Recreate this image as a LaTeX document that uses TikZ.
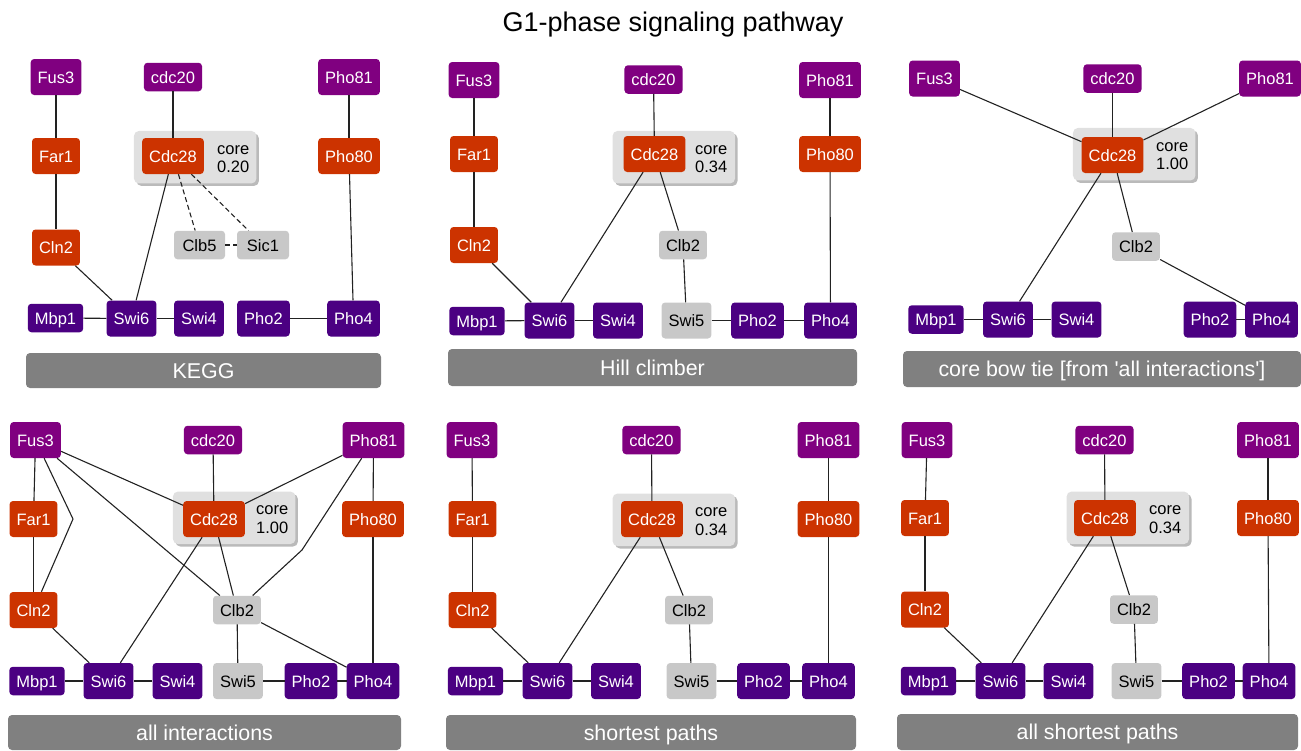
\documentclass[tikz,border=0pt]{standalone}
\usepackage{fontspec}
\setmainfont{Liberation Sans}
\usetikzlibrary{shadows}

\definecolor{topc}{HTML}{800080}
\definecolor{midc}{HTML}{CC3300}
\definecolor{botc}{HTML}{4B0082}
\definecolor{auxc}{HTML}{C8C8C8}
\definecolor{corec}{HTML}{E0E0E0}
\definecolor{shadowc}{HTML}{BABABA}
\definecolor{barc}{HTML}{808080}
\definecolor{linkc}{HTML}{222222}

\newcommand\genefont{\fontsize{16.5}{18.5}\selectfont}
\newcommand\barfont{\fontsize{21.4}{24}\selectfont}
\newcommand\titlefont{\fontsize{27}{30}\selectfont}

\begin{document}
\begin{tikzpicture}[x=1pt,y=-1pt,
  gene/.style={rectangle, rounded corners=3.5pt, inner xsep=7pt, inner ysep=0pt,
    minimum height=36pt, text height=12pt, text depth=0pt, font=\genefont, text=white},
  gtop/.style={gene, fill=topc},
  gmid/.style={gene, fill=midc},
  gbot/.style={gene, fill=botc},
  gaux/.style={gene, fill=auxc, text=black},
  gshort/.style={minimum height=28.5pt},
  corebox/.style={rectangle, rounded corners=5pt, fill=corec, inner sep=0pt,
    minimum width=122.5pt, minimum height=52.5pt,
    drop shadow={shadow xshift=2.5pt, shadow yshift=-2.5pt, fill=shadowc, opacity=1}},
  corelabel/.style={anchor=west, align=left, inner sep=0pt, font=\genefont},
  bar/.style={rectangle, rounded corners=4pt, fill=barc, text=white, inner sep=0pt,
    text height=15pt, text depth=0pt, font=\barfont},
  link/.style={draw=linkc, line width=1.1pt},
  weak/.style={link, dash pattern=on 5pt off 3pt}
]
\useasboundingbox (0,0) rectangle (1301,750);

% title
\node[font=\titlefont, text height=19.3pt, text depth=0pt, inner sep=0pt] (title) at (673,21.5) {G1-phase signaling pathway};

% ---------- core boxes ----------
\node[corebox] (A-core) at (195.2,157.2) {};
\node[corebox] (B-core) at (673.8,157.2) {};
\node[corebox] (C-core) at (1134.2,154.2) {};
\node[corebox] (D-core) at (234.2,517.8) {};
\node[corebox] (E-core) at (673.8,519.8) {};
\node[corebox] (F-core) at (1127.8,517.8) {};
\node[corelabel] (A-corel) at (217,159.2) {core\\0.20};
\node[corelabel] (B-corel) at (695,159.2) {core\\0.34};
\node[corelabel] (C-corel) at (1156,156.2) {core\\1.00};
\node[corelabel] (D-corel) at (256,519.8) {core\\1.00};
\node[corelabel] (E-corel) at (695,521.8) {core\\0.34};
\node[corelabel] (F-corel) at (1149,519.8) {core\\0.34};

% ---------- KEGG ----------
\node[gtop] (A-Fus3) at (56,77) {Fus3};
\node[gtop,gshort] (A-cdc20) at (173,77) {cdc20};
\node[gtop] (A-Pho81) at (349,77) {Pho81};
\node[gmid] (A-Far1) at (56,156) {Far1};
\node[gmid] (A-Cdc28) at (173,156) {Cdc28};
\node[gmid] (A-Pho80) at (349,156) {Pho80};
\node[gmid] (A-Cln2) at (56,247.5) {Cln2};
\node[gaux,gshort,minimum width=51pt] (A-Clb5) at (199.5,245) {Clb5};
\node[gaux,gshort,minimum width=52pt] (A-Sic1) at (263,245) {Sic1};
\node[gbot,gshort] (A-Mbp1) at (55.5,318) {Mbp1};
\node[gbot] (A-Swi6) at (131.5,318.5) {Swi6};
\node[gbot] (A-Swi4) at (199,318.5) {Swi4};
\node[gbot] (A-Pho2) at (263.5,318.5) {Pho2};
\node[gbot] (A-Pho4) at (353.5,318.5) {Pho4};
\node[bar, minimum width=355pt, minimum height=35pt] (A-bar) at (203.5,370.5) {KEGG};

% ---------- Hill climber ----------
\node[gtop] (B-Fus3) at (474,80) {Fus3};
\node[gtop,gshort] (B-cdc20) at (653.5,79.5) {cdc20};
\node[gtop] (B-Pho81) at (830,80) {Pho81};
\node[gmid] (B-Far1) at (474,154) {Far1};
\node[gmid] (B-Cdc28) at (654.5,154) {Cdc28};
\node[gmid] (B-Pho80) at (830,154) {Pho80};
\node[gmid] (B-Cln2) at (474,245) {Cln2};
\node[gaux,gshort] (B-Clb2) at (683,245) {Clb2};
\node[gbot,gshort] (B-Mbp1) at (477,321) {Mbp1};
\node[gbot] (B-Swi6) at (549.5,320.5) {Swi6};
\node[gbot] (B-Swi4) at (618,320.5) {Swi4};
\node[gaux] (B-Swi5) at (686.5,320.5) {Swi5};
\node[gbot] (B-Pho2) at (757.5,320.5) {Pho2};
\node[gbot] (B-Pho4) at (830.5,320.5) {Pho4};
\node[bar, minimum width=409pt, minimum height=37pt] (B-bar) at (652.5,367.5) {Hill climber};

% ---------- core bow tie ----------
\node[gtop] (C-Fus3) at (934.5,78.5) {Fus3};
\node[gtop,gshort] (C-cdc20) at (1112.5,78.5) {cdc20};
\node[gtop] (C-Pho81) at (1270,78.5) {Pho81};
\node[gmid] (C-Cdc28) at (1112.5,155) {Cdc28};
\node[gaux,gshort] (C-Clb2) at (1136,246.5) {Clb2};
\node[gbot,gshort] (C-Mbp1) at (936,319.5) {Mbp1};
\node[gbot] (C-Swi6) at (1008,319.5) {Swi6};
\node[gbot] (C-Swi4) at (1076.5,319.5) {Swi4};
\node[gbot] (C-Pho2) at (1210,319.5) {Pho2};
\node[gbot] (C-Pho4) at (1271.5,319.5) {Pho4};
\node[bar, minimum width=398pt, minimum height=36pt] (C-bar) at (1102,369) {core bow tie [from \textquotesingle all interactions\textquotesingle]};

% ---------- all interactions ----------
\node[gtop] (D-Fus3) at (35.5,440) {Fus3};
\node[gtop,gshort] (D-cdc20) at (213,440) {cdc20};
\node[gtop] (D-Pho81) at (373.5,440) {Pho81};
\node[gmid] (D-Far1) at (33.5,519) {Far1};
\node[gmid] (D-Cdc28) at (214,519) {Cdc28};
\node[gmid] (D-Pho80) at (373,519) {Pho80};
\node[gmid] (D-Cln2) at (33.5,610) {Cln2};
\node[gaux,gshort] (D-Clb2) at (237,610) {Clb2};
\node[gbot,gshort] (D-Mbp1) at (37,681) {Mbp1};
\node[gbot] (D-Swi6) at (108.5,681) {Swi6};
\node[gbot] (D-Swi4) at (177.5,681) {Swi4};
\node[gaux] (D-Swi5) at (238,681) {Swi5};
\node[gbot] (D-Pho2) at (311,681) {Pho2};
\node[gbot] (D-Pho4) at (373,681) {Pho4};
\node[bar, minimum width=393pt, minimum height=35pt] (D-bar) at (204.5,732.5) {all interactions};
\coordinate (D-bend1) at (73,519);
\coordinate (D-bend2) at (302,550);

% ---------- shortest paths ----------
\node[gtop] (E-Fus3) at (472,440) {Fus3};
\node[gtop,gshort] (E-cdc20) at (651.5,440) {cdc20};
\node[gtop] (E-Pho81) at (828.5,440) {Pho81};
\node[gmid] (E-Far1) at (472.5,519) {Far1};
\node[gmid] (E-Cdc28) at (652,519) {Cdc28};
\node[gmid] (E-Pho80) at (828.5,519) {Pho80};
\node[gmid] (E-Cln2) at (472.5,610) {Cln2};
\node[gaux,gshort] (E-Clb2) at (689,610) {Clb2};
\node[gbot,gshort] (E-Mbp1) at (475.5,681) {Mbp1};
\node[gbot] (E-Swi6) at (547.5,681) {Swi6};
\node[gbot] (E-Swi4) at (616,681) {Swi4};
\node[gaux] (E-Swi5) at (691.5,681) {Swi5};
\node[gbot] (E-Pho2) at (763.5,681) {Pho2};
\node[gbot] (E-Pho4) at (828.5,681) {Pho4};
\node[bar, minimum width=410pt, minimum height=35pt] (E-bar) at (651,732.5) {shortest paths};

% ---------- all shortest paths ----------
\node[gtop] (F-Fus3) at (927,440) {Fus3};
\node[gtop,gshort] (F-cdc20) at (1104.5,440) {cdc20};
\node[gtop] (F-Pho81) at (1268,440) {Pho81};
\node[gmid] (F-Far1) at (925,518) {Far1};
\node[gmid] (F-Cdc28) at (1105,518) {Cdc28};
\node[gmid] (F-Pho80) at (1268,518) {Pho80};
\node[gmid] (F-Cln2) at (925,609.5) {Cln2};
\node[gaux,gshort] (F-Clb2) at (1134,609.5) {Clb2};
\node[gbot,gshort] (F-Mbp1) at (928.5,681) {Mbp1};
\node[gbot] (F-Swi6) at (1000.5,681) {Swi6};
\node[gbot] (F-Swi4) at (1068.5,681) {Swi4};
\node[gaux] (F-Swi5) at (1136.5,681) {Swi5};
\node[gbot] (F-Pho2) at (1208.5,681) {Pho2};
\node[gbot] (F-Pho4) at (1269,681) {Pho4};
\node[bar, minimum width=401pt, minimum height=36pt] (F-bar) at (1097.5,732) {all shortest paths};

% ---------- interactions ----------
\foreach \a/\b in {Fus3/Far1, Far1/Cln2, cdc20/Cdc28, Pho81/Pho80, Pho80/Pho4,
    Cln2/Swi6, Cdc28/Swi6, Mbp1/Swi6, Swi6/Swi4, Pho2/Pho4}
  \draw[link] (A-\a) -- (A-\b);
\foreach \a/\b in {Cdc28/Clb5, Cdc28/Sic1, Clb5/Sic1}
  \draw[weak] (A-\a) -- (A-\b);

\foreach \p in {B,E,F}
  \foreach \a/\b in {Fus3/Far1, Far1/Cln2, cdc20/Cdc28, Pho81/Pho80, Pho80/Pho4,
      Cln2/Swi6, Cdc28/Swi6, Cdc28/Clb2, Clb2/Swi5, Mbp1/Swi6, Swi6/Swi4,
      Swi5/Pho2, Pho2/Pho4}
    \draw[link] (\p-\a) -- (\p-\b);

\foreach \a/\b in {Fus3/Cdc28, cdc20/Cdc28, Pho81/Cdc28, Cdc28/Swi6, Cdc28/Clb2,
    Clb2/Pho4, Mbp1/Swi6, Swi6/Swi4, Pho2/Pho4}
  \draw[link] (C-\a) -- (C-\b);

\foreach \a/\b in {Fus3/Far1, Far1/Cln2, Fus3/Cdc28, Fus3/Clb2, cdc20/Cdc28,
    Pho81/Cdc28, Pho81/Pho80, Pho80/Pho4, Cdc28/Swi6, Cdc28/Clb2, Cln2/Swi6,
    Clb2/Swi5, Clb2/Pho4, Mbp1/Swi6, Swi6/Swi4, Swi5/Pho2, Pho2/Pho4}
  \draw[link] (D-\a) -- (D-\b);
\draw[link] (D-Fus3) -- (D-bend1) -- (D-Cln2);
\draw[link] (D-Pho81) -- (D-bend2) -- (D-Clb2);
\end{tikzpicture}
\end{document}
